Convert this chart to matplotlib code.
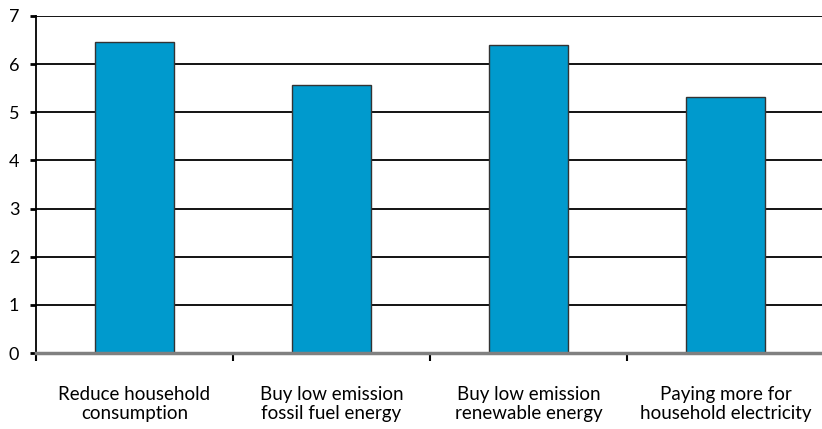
import matplotlib.pyplot as plt
from matplotlib.ticker import FixedLocator

categories = ["Reduce household\nconsumption",
              "Buy low emission\nfossil fuel energy",
              "Buy low emission\nrenewable energy",
              "Paying more for\nhousehold electricity"]
values = [6.45, 5.56, 6.40, 5.32]
yticks = [0, 1, 2, 3, 4, 5, 6, 7]

plt.rcParams['font.family'] = ['Lato', 'DejaVu Sans']

fig = plt.figure(figsize=(8.22, 4.29), dpi=100)
ax = fig.add_axes([36 / 822, 1 - 353 / 429, 788 / 822, 337 / 429])

x = range(len(categories))
ax.bar(x, values, width=0.4, color="#009ACD", edgecolor="#333333", linewidth=1.0, zorder=3)

ax.set_xlim(-0.5, 3.5)
ax.set_ylim(0, 7)
ax.set_yticks(yticks)
ax.yaxis.grid(True, color="black", linewidth=1.3, zorder=0)

# category labels centred, ticks between categories
ax.set_xticks(list(x))
ax.set_xticklabels(categories, fontsize=13.5, linespacing=1.15)
ax.xaxis.set_minor_locator(FixedLocator([-0.5, 0.5, 1.5, 2.5, 3.5]))
ax.tick_params(axis="x", which="major", length=0, pad=24)
ax.tick_params(axis="x", which="minor", length=6, width=1.5, direction="out", color="black")
ax.tick_params(axis="y", length=4, width=2, direction="out", labelsize=13, pad=8)

for s in ["top", "right"]:
    ax.spines[s].set_visible(False)
ax.spines["left"].set_linewidth(1.3)
ax.spines["bottom"].set_color("#808080")
ax.spines["bottom"].set_linewidth(2.5)
ax.spines["bottom"].set_zorder(4)

fig.savefig("out.png", dpi=100)
